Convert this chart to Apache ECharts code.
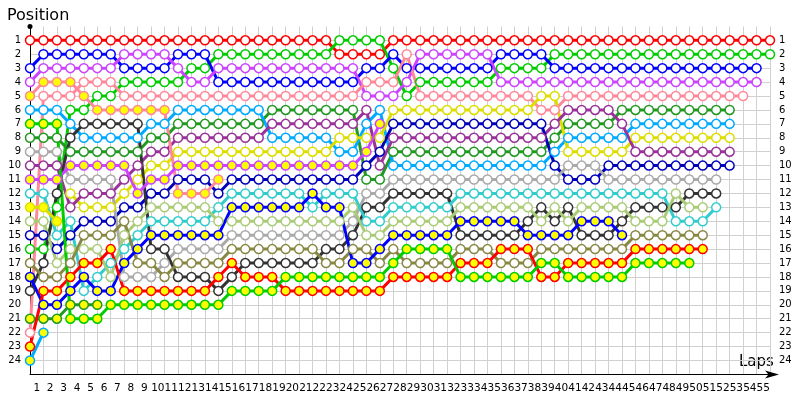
<!DOCTYPE html>
<html>
<head>
<meta charset="utf-8">
<title>Lap chart</title>
<script src="https://cdn.jsdelivr.net/npm/echarts/dist/echarts.min.js"></script>
<style>
  html, body { margin: 0; padding: 0; background: #fff; }
  #chart { width: 800px; height: 400px; }
</style>
</head>
<body>
<div id="chart"></div>
<script>
// lap labels under the x axis
const lapLabels = ['1','2','3','4','5','6','7','8','9','10','11','12','13','14','15','16','17','18','19','20',
  '21','22','23','24','25','26','27','28','29','30','31','32','33','34','35','36','37','38','39','40',
  '41','42','43','44','45','46','47','48','49','50','51','52','53','54','55'];

// running position per lap, index 0 = grid, null = not running
const redW = [1,1,1,1,1,1,1,1,1,1, 1,1,1,1,1,1,1,1,1,1, 1,1,1,2,2,2,2,1,1,1, 1,1,1,1,1,1,1,1,1,1, 1,1,1,1,1,1,1,1,1,1, 1,1,1,1,1,1];
const greenW = [16,16,13,6,6,5,5,4,4,4, 4,4,3,3,2,2,2,2,2,2, 2,2,2,1,1,1,1,3,5,4, 4,4,4,4,4,3,3,3,3,2, 2,2,2,2,2,2,2,2,2,2, 2,2,2,2,2,2];
const blueW = [3,2,2,2,2,2,2,3,3,3, 3,2,2,2,4,4,4,4,4,4, 4,4,4,4,4,3,3,2,3,3, 3,3,3,3,3,2,2,2,2,3, 3,3,3,3,3,3,3,3,3,3, 3,3,3,3,3];
const purpleW = [4,3,3,3,3,3,3,2,2,2, 2,3,4,4,3,3,3,3,3,3, 3,3,3,3,3,5,5,5,4,2, 2,2,2,2,2,4,4,4,4,4, 4,4,4,4,4,4,4,4,4,4, 4,4,4,4,4];
const pinkW = [22,5,5,5,4,4,4,5,5,5, 5,5,5,5,5,5,5,5,5,5, 5,5,5,5,5,4,4,4,2,5, 5,5,5,5,5,5,5,5,6,6, 5,5,5,5,5,5,5,5,5,5, 5,5,5,5];
const pinkY = [5,4,4,4,5,6,6,6,6,6, 6,12,12,12,11];
const ltBlueW = [6,6,6,7,8,8,8,8,8,7, 7,6,6,6,6,6,6,6,8,8, 8,8,8,9,9,7,6,10,10,10, 10,10,10,10,10,10,10,10,10,9, 8,8,8,8,8,7,7,7,7,7, 7,7,7];
const dkGreenW = [8,8,8,9,9,9,9,9,9,8, 8,7,7,7,7,7,7,7,6,6, 6,6,6,6,6,11,11,9,9,9, 9,9,9,9,9,9,9,9,9,8, 7,7,7,7,6,6,6,6,6,6, 6,6,6];
const dkPurpleW = [10,10,10,13,12,12,12,11,10,9, 9,8,8,8,8,8,8,8,7,7, 7,7,7,7,7,6,10,8,8,8, 8,8,8,8,8,8,8,8,8,7, 6,6,6,6,7,9,9,9,9,9, 9,9,9];
const yellowW = [null,null,null,12,13,13,13,12,11,10, 10,9,9,9,9,9,9,9,9,9, 9,9,9,8,8,8,8,6,6,6, 6,6,6,6,6,6,6,6,5,5, 9,9,9,9,9,8,8,8,8,8, 8,8,8];
const purpleY = [11,11,11,10,10,10,10,10,12,11, 11,10,10,10,10,10,10,10,10,10, 10,10,10,10,10,9,7];
const navyW = [15,15,16,15,14,14,14,13,13,12, 12,11,11,11,12,11,11,11,11,11, 11,11,11,11,11,10,9,7,7,7, 7,7,7,7,7,7,7,7,7,10, 11,11,11,10,10,10,10,10,10,10, 10,10,10];
const greyW = [9,9,9,11,11,11,11,18,18,18, 17,16,16,16,16,15,15,15,15,15, 15,15,15,15,14,12,12,11,11,11, 11,11,11,11,11,11,11,11,11,11, 10,10,10,11,11,11,11,11,11,11, 11,11];
const dkGreyW = [19,17,12,8,7,7,7,7,7,16, 16,18,18,18,19,18,17,17,17,17, 17,17,16,16,15,13,13,12,12,12, 12,12,15,15,15,15,15,14,13,14, 13,15,15,15,14,13,13,13,13,12, 12,12];
const tealW = [12,12,15,14,19,18,17,16,15,14, 14,14,14,14,13,12,12,12,12,12, 12,13,12,12,12,14,14,13,13,13, 13,13,12,12,12,12,12,12,12,12, 12,12,12,12,12,12,12,12,14,14, 14,13];
const ltOliveW = [14,14,17,16,16,16,18,15,14,13, 13,13,13,13,14,14,14,14,14,14, 14,14,14,14,13,15,15,14,14,14, 14,14,13,13,13,13,13,13,14,13, 14,13,13,13,13,14,14,14,12,13, 13];
const oliveW = [17,18,18,17,15,15,15,14,17,17, 18,17,17,17,17,16,16,16,16,16, 16,16,17,17,16,16,17,16,17,17, 17,17,16,16,16,17,17,17,16,16, 16,16,16,16,16,15,15,15,15,15, 15];
const blueY = [18,20,20,19,18,19,19,17,16,15, 15,15,15,15,15,13,13,13,13,13, 13,12,13,13,17,17,16,15,15,15, 15,15,14,14,14,14,14,15,15,15, 15,14,14,14,15];
const redY = [23,19,19,18,17,17,16,19,19,19, 19,19,19,19,18,17,18,18,18,19, 19,19,19,19,19,19,19,18,18,18, 18,18,17,17,17,16,16,16,18,18, 17,17,17,17,17,16,16,16,16,16, 16];
const greenY = [7,7,7,21,21,21,20,20,20,20, 20,20,20,20,20,19,19,19,19,18, 18,18,18,18,18,18,18,17,16,16, 16,16,18,18,18,18,18,18,17,17, 18,18,18,18,18,17,17,17,17,17];
const dkGreenY = [21,21,21,20,20,20];
const ltBlueY = [24,22];
const yellowY = [13,13,14];

// colours: line colour and marker fill
const WHITE = '#ffffff';
const YELLOW = '#ffff00';
const cars = [
  { pos: redW, line: '#ff0000', fill: WHITE },
  { pos: greenW, line: '#00cc00', fill: WHITE },
  { pos: blueW, line: '#0000ff', fill: WHITE },
  { pos: purpleW, line: '#cc44ff', fill: WHITE },
  { pos: pinkW, line: '#ff8899', fill: WHITE },
  { pos: dkGreenW, line: '#229922', fill: WHITE },
  { pos: ltBlueW, line: '#00aaff', fill: WHITE },
  { pos: yellowW, line: '#dddd00', fill: WHITE },
  { pos: dkPurpleW, line: '#993399', fill: WHITE },
  { pos: navyW, line: '#0000bb', fill: WHITE },
  { pos: greyW, line: '#aaaaaa', fill: WHITE },
  { pos: dkGreyW, line: '#333333', fill: WHITE },
  { pos: tealW, line: '#33cccc', fill: WHITE },
  { pos: ltOliveW, line: '#aacc77', fill: WHITE },
  { pos: oliveW, line: '#888844', fill: WHITE },
  { pos: pinkY, line: '#ff8899', fill: YELLOW },
  { pos: purpleY, line: '#cc44ff', fill: YELLOW },
  { pos: dkGreenY, line: '#229922', fill: YELLOW },
  { pos: ltBlueY, line: '#00aaff', fill: YELLOW },
  { pos: yellowY, line: '#dddd00', fill: YELLOW },
  { pos: blueY, line: '#0000ff', fill: YELLOW },
  { pos: redY, line: '#ff0000', fill: YELLOW },
  { pos: greenY, line: '#00cc00', fill: YELLOW }
];

const FONT = 'DejaVu Sans';
const gridColors = ['rgba(0,0,0,0)'].concat(new Array(25).fill('#d0d0d0'));

const chart = echarts.init(document.getElementById('chart'));

chart.setOption({
  animation: false,
  backgroundColor: '#fff',
  title: {
    text: 'Position',
    left: 2, top: 3,
    textStyle: { fontFamily: FONT, fontSize: 16, fontWeight: 'normal', color: '#000' }
  },
  graphic: [{
    type: 'text', left: 739, top: 355,
    style: { text: 'Laps', font: '15px "DejaVu Sans"', fill: '#000' }
  }],
  grid: { left: 30, right: 30, top: 26.4, bottom: 25.6, containLabel: false },
  xAxis: [{
    type: 'value', min: 0, max: 55, interval: 1,
    axisLine: { show: true, onZero: false, lineStyle: { color: '#000', width: 1 }, symbol: ['none', 'arrow'], symbolSize: [6, 14], symbolOffset: [0, 9] },
    axisTick: { show: false },
    axisLabel: { show: false },
    splitLine: { show: true, lineStyle: { color: '#d0d0d0', width: 1 } }
  }, {
    type: 'category', position: 'bottom', offset: 0, boundaryGap: true,
    data: lapLabels,
    axisLine: { show: false }, axisTick: { show: false }, splitLine: { show: false },
    axisLabel: { interval: 0, margin: 8, fontFamily: FONT, fontSize: 10.5, color: '#000' }
  }],
  yAxis: [{
    type: 'value', inverse: true, min: 0, max: 25, interval: 1,
    axisLine: { show: true, onZero: false, lineStyle: { color: '#000', width: 1 }, symbol: ['none', 'circle'], symbolSize: [5, 5] },
    axisTick: { show: false },
    axisLabel: {
      margin: 9, fontFamily: FONT, fontSize: 10, color: '#000',
      formatter: v => (v >= 1 && v <= 24 ? String(v) : '')
    },
    splitLine: { show: true, lineStyle: { color: gridColors, width: 1 } }
  }, {
    type: 'value', inverse: true, min: 0, max: 25, interval: 1, position: 'right',
    axisLine: { show: false }, axisTick: { show: false }, splitLine: { show: false },
    axisLabel: {
      margin: 9, fontFamily: FONT, fontSize: 10, color: '#000',
      formatter: v => (v >= 1 && v <= 24 ? String(v) : '')
    }
  }],
  series: cars.map((c, k) => ({
    type: 'line',
    name: 'car' + k,
    xAxisIndex: 0,
    yAxisIndex: 0,
    data: c.pos.map((p, lap) => [lap, p]).filter(d => d[1] != null),
    symbol: 'circle',
    symbolSize: 9,
    showAllSymbol: true,
    lineStyle: { color: c.line, width: 3 },
    itemStyle: { color: c.fill, borderColor: c.line, borderWidth: 1.5 },
    emphasis: { disabled: true },
    silent: true
  }))
});
</script>
</body>
</html>
